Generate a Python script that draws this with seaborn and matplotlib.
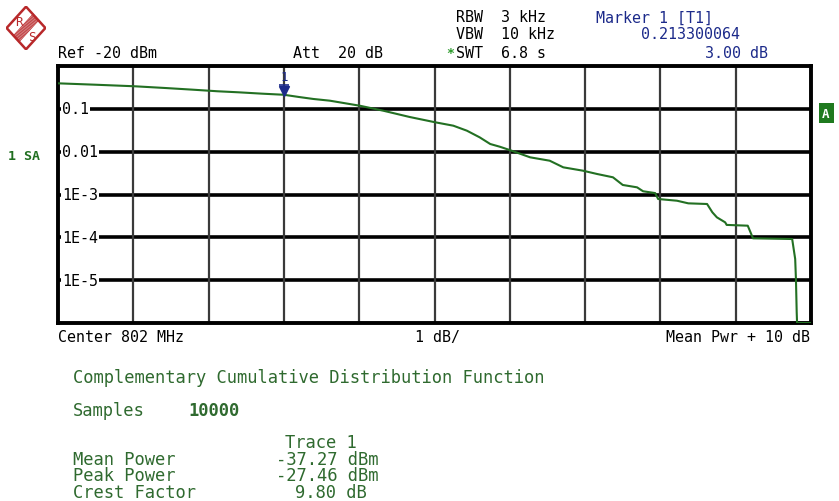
import matplotlib
matplotlib.use("Agg")
import matplotlib.pyplot as plt
import matplotlib.transforms as mtransforms
from matplotlib.patches import Polygon
import seaborn as sns
import pandas as pd

# ---------------- data ----------------
level_db = [0.00, 0.49, 1.02, 1.43, 1.79, 2.12, 2.40, 2.71, 3.00, 3.20, 3.39, 3.61,
            4.01, 4.32, 4.67, 5.01, 5.25, 5.43, 5.60, 5.74, 5.87, 6.00, 6.27, 6.53,
            6.71, 6.97, 7.16, 7.37, 7.50, 7.69, 7.77, 7.93, 7.97, 8.22, 8.37, 8.62,
            8.69, 8.75, 8.86, 8.88, 9.16, 9.23, 9.75, 9.79, 9.80, 9.81, 9.815, 10.0]
ccdf = [0.394, 0.366, 0.336, 0.306, 0.280, 0.257, 0.243, 0.226, 0.213, 0.189, 0.170,
        0.155, 0.118, 0.0904, 0.0645, 0.0485, 0.0404, 0.0309, 0.0216, 0.0151, 0.0130,
        0.0109, 0.00738, 0.00615, 0.00431, 0.00360, 0.00301, 0.00252, 0.00167,
        0.00147, 0.00119, 0.00108, 0.000785, 0.000716, 0.000622, 0.000600, 0.000384,
        0.000293, 0.000224, 0.000195, 0.000187, 0.0000948, 0.0000914, 0.0000312,
        0.0000106, 0.0000018, 0.000001, 0.000001]

ytick_vals = [1e-1, 1e-2, 1e-3, 1e-4, 1e-5]
ytick_labels = ["0.1", "0.01", "1E-3", "1E-4", "1E-5"]
xgrid_vals = [1, 2, 3, 4, 5, 6, 7, 8, 9]

marker_x = 3.00
marker_y = 0.213300064

stats_names = ["Mean Power", "Peak Power", "Crest Factor"]
stats_values = ["-37.27 dBm", "-27.46 dBm", "9.80 dB"]

df = pd.DataFrame({"level": level_db, "ccdf": ccdf})

# ---------------- style ----------------
sns.set_style("white")
plt.rcParams["font.family"] = ["DejaVu Sans Mono", "DejaVu Sans"]

W, H = 839, 502
fig = plt.figure(figsize=(W / 100, H / 100), dpi=100)
fig.patch.set_facecolor("white")

L, R, T, B = 58, 811, 67, 324
ax = fig.add_axes([L / W, 1 - B / H, (R - L) / W, (B - T) / H])
ax.set_facecolor("white")

TRACE = "#237023"
GREEN_TXT = "#2f6a2f"
NAVY = "#1c2a8a"

ax.set_yscale("log")
ax.set_xlim(0, 10)
ax.set_ylim(1e-6, 1)

for v in ytick_vals:
    ax.axhline(v, color="black", lw=2.6, zorder=1)
for v in xgrid_vals:
    ax.axvline(v, color="#3a3a3a", lw=1.6, zorder=1)

sns.lineplot(data=df, x="level", y="ccdf", ax=ax, color=TRACE, lw=1.5,
             sort=False, estimator=None, zorder=3)

for sp in ax.spines.values():
    sp.set_linewidth(2.8)
    sp.set_color("black")
ax.set_xticks([])
ax.set_yticks([])
ax.minorticks_off()
ax.set_xlabel("")
ax.set_ylabel("")

for v, lab in zip(ytick_vals, ytick_labels):
    ax.text(0.055, v, lab, fontsize=10.8, ha="left", va="center", color="black",
            zorder=5, bbox=dict(facecolor="white", edgecolor="none", pad=0.6))

# marker 1
trans_up = mtransforms.offset_copy(ax.transData, fig=fig, x=0, y=3.0, units="points")
ax.plot([marker_x], [marker_y], marker="v", color=NAVY, markersize=7,
        transform=trans_up, zorder=6, clip_on=False)
trans_txt = mtransforms.offset_copy(ax.transData, fig=fig, x=0, y=13, units="points")
ax.text(marker_x, marker_y, "1", transform=trans_txt, color=NAVY, fontsize=9,
        ha="center", va="center", zorder=6)
trans_bar = mtransforms.offset_copy(ax.transData, fig=fig, x=0, y=7.0, units="points")
ax.plot([marker_x], [marker_y], marker="_", color=NAVY, markersize=7, mew=1.2,
        transform=trans_bar, zorder=6, clip_on=False)

# ---------------- texts ----------------
def T(x, y, s, ha="left", va="center", size=10.8, color="black", **kw):
    fig.text(x / W, 1 - y / H, s, ha=ha, va=va, fontsize=size, color=color, **kw)

T(58, 53, "Ref -20 dBm")
T(293, 53, "Att  20 dB")
T(456, 18, "RBW  3 kHz")
T(456, 35, "VBW  10 kHz")
T(456, 53, "SWT  6.8 s")
T(450, 54, "*", ha="center", color="#2a9a2a", size=9.5, fontweight="bold")
T(596, 18, "Marker 1 [T1]", color=NAVY)
T(740, 35, "0.213300064", ha="right", color=NAVY)
T(768, 53, "3.00 dB", ha="right", color=NAVY)

T(58, 338, "Center 802 MHz")
T(437, 338, "1 dB/", ha="center")
T(810, 338, "Mean Pwr + 10 dB", ha="right")

T(8, 157, "1 SA", color="#1f6e1f", size=9.5, fontweight="bold")
T(826, 114, "A", ha="center", color="white", size=9, fontweight="bold",
  bbox=dict(facecolor="#1f7a1f", edgecolor="none", boxstyle="square,pad=0.3"))

BS = 12.3
T(73, 378, "Complementary Cumulative Distribution Function", size=BS, color=GREEN_TXT)
T(73, 411, "Samples", size=BS, color=GREEN_TXT)
T(188, 411, "10000", size=BS, color=GREEN_TXT, fontweight="bold")
T(285, 443, "Trace 1", size=BS, color=GREEN_TXT)
for i, (n, v) in enumerate(zip(stats_names, stats_values)):
    y = 460 + 16.5 * i
    T(73, y, n, size=BS, color=GREEN_TXT)
    T(378 if v.endswith("dBm") else 367, y, v, ha="right", size=BS, color=GREEN_TXT)

# ---------------- R&S logo ----------------
lax = fig.add_axes([6 / W, 1 - 51 / H, 40 / W, 44 / H])
lax.set_xlim(-1, 1)
lax.set_ylim(-1, 1)
lax.axis("off")
RED = "#b8282a"
lax.add_patch(Polygon([(0, 0.97), (0.97, 0), (0, -0.97), (-0.97, 0)], closed=True,
                      fill=False, edgecolor=RED, lw=1.8))
for k in range(9):
    t = -0.28 + 0.07 * k
    lax.plot([-0.5 + t * 0.5, 0.5 + t * 0.5], [-0.5 - t * 0.5, 0.5 - t * 0.5],
             color=RED, lw=0.6)
lax.text(-0.38, 0.3, "R", color=RED, fontsize=9, ha="center", va="center")
lax.text(0.3, -0.38, "S", color=RED, fontsize=9, ha="center", va="center")

fig.savefig("out.png", dpi=100, facecolor="white")
